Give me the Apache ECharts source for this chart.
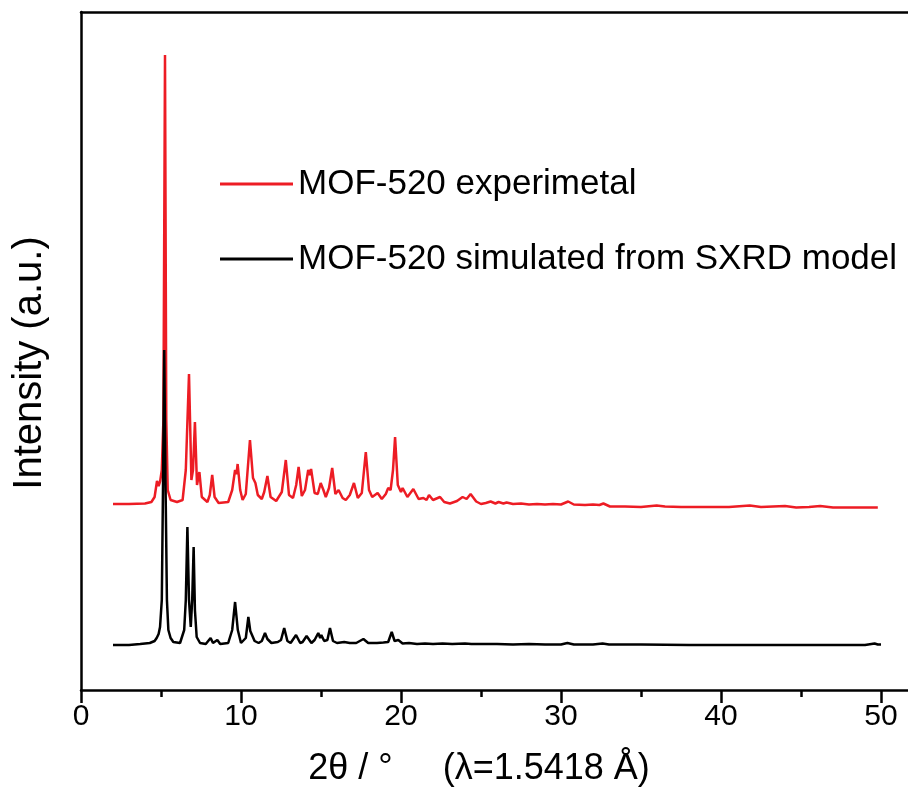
<!DOCTYPE html>
<html><head><meta charset="utf-8">
<script src="https://cdn.jsdelivr.net/npm/echarts@6/dist/echarts.min.js"></script>
<style>html,body{margin:0;padding:0;background:#fff}#c{width:908px;height:794px}</style>
</head><body><div id="c"></div>
<script>
// Data (2θ in degrees, intensity in arbitrary units)
const redX = [2.0,3.0,4.0,4.4,4.6,4.75,4.85,4.95,5.05,5.15,5.25,5.33,5.42,5.6,6.0,6.35,6.55,6.75,6.9,7.0,7.12,7.25,7.4,7.55,7.9,8.05,8.2,8.35,8.6,9.2,9.45,9.63,9.72,9.79,9.95,10.1,10.3,10.56,10.75,10.9,11.05,11.3,11.45,11.65,11.85,12.2,12.55,12.8,13.0,13.25,13.45,13.6,13.8,14.0,14.2,14.3,14.38,14.6,14.8,14.98,15.15,15.3,15.5,15.7,15.9,16.1,16.35,16.55,16.8,17.06,17.3,17.55,17.8,18.0,18.2,18.54,18.8,19.05,19.2,19.35,19.5,19.63,19.8,20.0,20.1,20.4,20.77,21.1,21.4,21.6,21.75,22.0,22.44,22.7,23.06,23.5,23.85,24.1,24.35,24.7,25.0,25.3,25.6,25.9,26.1,26.4,26.6,27.0,27.5,28.0,28.5,29.0,29.5,30.0,30.45,30.8,31.5,32.0,32.4,32.65,33.06,34.0,35.0,35.98,36.5,37.5,38.5,39.5,40.5,41.8,42.5,44.0,44.7,45.5,46.2,47.0,48.0,49.0,49.8];
const redY = [186,186,186.5,188,193,209,204,209,220,270,635,270,200,190,188,190,220,316,210,220,268,205,218,193,188,195,215,193,187,188,200,220,216,226,200,190,196,250,212,207,195,191,198,214,193,189,198,230,195,192,205,223,194,200,220,215,221,197,196,207,200,193,202,222,196,200,192,190,195,207,192,197,238,200,193,197,191,196,202,200,220,253,205,198,202,193,201,191,192,190,195,190,193,188,186.5,189,193,191,196,188.5,186,187,188.5,186.5,188,186.5,187.5,186,186.5,185.5,186,185.5,186,185.5,188.5,185.5,185,185.5,185,186.5,183.5,183.5,183,184.5,183.5,183,183,183,183,184.5,183,184,182.5,183,184,182.5,182.5,182.5,182.5];
const blackX = [2.0,3.0,3.7,4.3,4.6,4.73,4.85,4.94,5.05,5.13,5.2,5.28,5.37,5.46,5.6,5.77,6.19,6.45,6.55,6.65,6.75,6.86,6.95,7.04,7.12,7.23,7.44,7.8,8.1,8.25,8.35,8.52,8.7,9.2,9.45,9.63,9.8,10.0,10.3,10.46,10.58,10.67,10.85,11.1,11.3,11.5,11.65,11.9,12.3,12.5,12.7,12.9,13.1,13.44,13.7,13.85,14.1,14.4,14.6,14.83,14.95,15.02,15.2,15.4,15.56,15.75,16.0,16.45,16.8,17.2,17.65,17.95,18.5,18.9,19.2,19.42,19.6,19.83,20.1,20.5,21.0,21.5,22.0,22.6,23.2,24.0,24.4,25.0,26.0,27.0,28.0,29.0,30.0,30.4,30.8,32.0,32.6,33.0,35.0,38.0,41.0,44.0,47.0,49.0,49.6,49.8,50.0];
const blackY = [45,45,46,47,49,52,56,63,90,210,340,210,90,60,52,48,47,60,90,163,90,63,90,143,80,53,47,46,52,47,47,50,46,47,60,88,60,47,52,73,59,58,49,47,49,57,51,47,48,50,62,49,47,55,47,48,54,47,50,57,52,55,49,50,62,49,47,48,47,47,51,47,47,47.5,48,58,49,50,46.5,47,46,46.5,46,46.5,46,46.5,46,46,46,45.5,46,45.5,45.5,47,45.5,45.5,46.5,45.5,45.5,45,45,45,45,45,46.5,45.5,45.5];
const majorTicks = [0,10,20,30,40,50];
const minorTicks = [5,15,25,35,45];
const seriesNames = ['MOF-520 experimetal','MOF-520 simulated from SXRD model'];

const FONT = 'Liberation Sans, Arial, sans-serif';
const xMin = 0, xMax = 51.8125;
const pair = (xs, ys) => xs.map((x, i) => [x, ys[i]]);

const chart = echarts.init(document.getElementById('c'), null, {renderer: 'canvas'});
chart.setOption({
  backgroundColor: '#fff',
  animation: false,
  grid: {left: 81, right: -2, top: 12, bottom: 104, containLabel: false, outerBoundsMode: 'none'},
  legend: {
    orient: 'vertical', left: 220, top: 164, padding: 0,
    icon: 'rect', itemWidth: 73, itemHeight: 3, itemGap: 35,
    textStyle: {fontFamily: FONT, fontSize: 35, color: '#000', lineHeight: 40},
    data: seriesNames
  },
  xAxis: [
    {
      type: 'value', min: xMin, max: xMax, position: 'bottom',
      name: '2θ / °     (λ=1.5418 Å)', nameLocation: 'middle', nameGap: 61,
      nameTextStyle: {fontFamily: FONT, fontSize: 36, color: '#000', padding: [0, 33, 0, 0]},
      axisLine: {show: true, onZero: false, lineStyle: {color: '#000', width: 2.5}},
      axisTick: {show: true, inside: false, length: 13, customValues: majorTicks, lineStyle: {color: '#000', width: 2.5}},
      axisLabel: {show: true, customValues: majorTicks, margin: 12, fontFamily: FONT, fontSize: 30, color: '#000'},
      splitLine: {show: false}
    },
    {
      type: 'value', min: xMin, max: xMax, position: 'bottom', offset: 0,
      axisLine: {show: false},
      axisTick: {show: true, inside: false, length: 7, customValues: minorTicks, lineStyle: {color: '#000', width: 2.5}},
      axisLabel: {show: false},
      splitLine: {show: false}
    },
    {
      type: 'value', min: xMin, max: xMax, position: 'top',
      axisLine: {show: true, onZero: false, lineStyle: {color: '#000', width: 2.5}},
      axisTick: {show: false}, axisLabel: {show: false}, splitLine: {show: false}
    }
  ],
  yAxis: {
    type: 'value', min: 0, max: 678,
    name: 'Intensity (a.u.)', nameLocation: 'middle', nameGap: 31, nameRotate: 90,
    nameTextStyle: {fontFamily: FONT, fontSize: 40, color: '#000', padding: [0, 24, 0, 0]},
    axisLine: {show: true, onZero: false, lineStyle: {color: '#000', width: 2.5}},
    axisTick: {show: false}, axisLabel: {show: false}, splitLine: {show: false}
  },
  series: [
    {name: seriesNames[0], type: 'line', xAxisIndex: 0, data: pair(redX, redY), showSymbol: false, symbol: 'none',
     lineStyle: {color: '#ED1C24', width: 2.5}, itemStyle: {color: '#ED1C24'}},
    {name: seriesNames[1], type: 'line', xAxisIndex: 0, data: pair(blackX, blackY), showSymbol: false, symbol: 'none',
     lineStyle: {color: '#000', width: 2.5}, itemStyle: {color: '#000'}}
  ]
});
</script>
</body></html>
